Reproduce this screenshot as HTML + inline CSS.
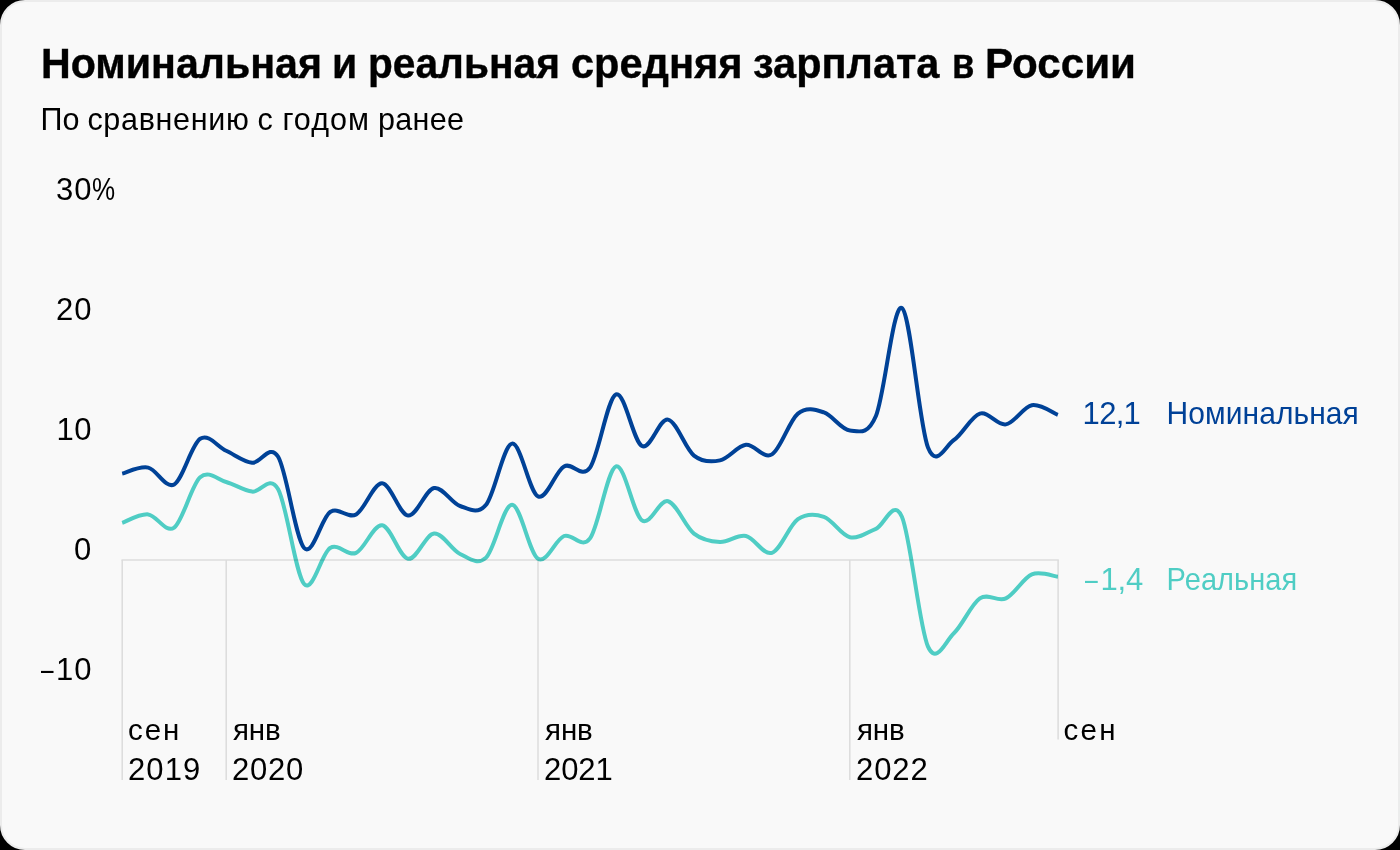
<!DOCTYPE html>
<html lang="ru"><head><meta charset="utf-8"><title>Номинальная и реальная средняя зарплата в России</title>
<style>
html,body{margin:0;padding:0;background:#000;}
body{width:1400px;height:850px;position:relative;overflow:hidden;font-family:"Liberation Sans",sans-serif;}
.card{position:absolute;left:0;top:0;width:1400px;height:850px;box-sizing:border-box;background:#f9f9f9;border:2px solid #ececec;border-radius:25px;}
.t{position:absolute;white-space:nowrap;font-family:"Liberation Sans",sans-serif;}
svg{position:absolute;left:0;top:0;}
.txt{position:absolute;left:0;top:0;width:1400px;height:850px;will-change:transform;}
</style></head><body>
<div class="card"></div>
<svg width="1400" height="850" viewBox="0 0 1400 850">
<g stroke="#dcdcdc" stroke-width="1.5" fill="none">
<path d="M121.5,560H1058.8"/>
<path d="M122.2,560V780"/>
<path d="M226.2,560V780"/>
<path d="M538,560V780"/>
<path d="M849.8,560V780"/>
<path d="M1058.1,560V739.5"/>
</g>
<path d="M122.20,522.80C126.53,521.40 139.53,513.60 148.19,514.40C156.85,515.20 165.52,533.80 174.18,527.60C182.84,521.40 191.51,484.80 200.17,477.20C208.83,469.60 217.50,479.60 226.16,482.00C234.82,484.40 243.49,490.40 252.15,491.60C260.81,492.80 269.48,473.80 278.14,489.20C286.80,504.60 295.47,574.20 304.13,584.00C312.79,593.80 321.46,553.20 330.12,548.00C338.78,542.80 347.45,556.60 356.11,552.80C364.77,549.00 373.44,524.20 382.10,525.20C390.76,526.20 399.43,557.40 408.09,558.80C416.75,560.20 425.42,534.40 434.08,533.60C442.74,532.80 451.41,550.00 460.07,554.00C468.73,558.00 477.40,565.80 486.06,557.60C494.72,549.40 503.39,504.60 512.05,504.80C520.71,505.00 529.38,553.60 538.04,558.80C546.70,564.00 555.37,539.40 564.03,536.00C572.69,532.60 581.36,550.00 590.02,538.40C598.68,526.80 607.35,469.40 616.01,466.40C624.67,463.40 633.34,514.60 642.00,520.40C650.66,526.20 659.33,499.00 667.99,501.20C676.65,503.40 685.32,526.80 693.98,533.60C702.64,540.40 711.31,541.60 719.97,542.00C728.63,542.40 737.30,534.20 745.96,536.00C754.62,537.80 763.29,555.60 771.95,552.80C780.61,550.00 789.28,525.20 797.94,519.20C806.60,513.20 815.27,513.80 823.93,516.80C832.59,519.80 841.26,535.20 849.92,537.20C858.58,539.20 867.25,532.20 875.91,528.80C884.57,525.40 893.24,497.20 901.90,516.80C910.56,536.40 919.23,627.00 927.89,646.40C936.55,665.80 945.22,641.20 953.88,633.20C962.54,625.20 971.21,604.20 979.87,598.40C988.53,592.60 997.20,602.40 1005.86,598.40C1014.52,594.40 1023.19,578.00 1031.85,574.40C1040.51,570.80 1053.51,576.40 1057.84,576.80" fill="none" stroke="#51d2c9" stroke-width="4" stroke-linejoin="round" style="mix-blend-mode:multiply"/>
<path d="M122.20,473.60C126.53,472.60 139.53,465.80 148.19,467.60C156.85,469.40 165.52,489.20 174.18,484.40C182.84,479.60 191.51,444.40 200.17,438.80C208.83,433.20 217.50,446.80 226.16,450.80C234.82,454.80 243.49,461.80 252.15,462.80C260.81,463.80 269.48,442.60 278.14,456.80C286.80,471.00 295.47,538.80 304.13,548.00C312.79,557.20 321.46,517.60 330.12,512.00C338.78,506.40 347.45,519.20 356.11,514.40C364.77,509.60 373.44,483.00 382.10,483.20C390.76,483.40 399.43,514.80 408.09,515.60C416.75,516.40 425.42,489.60 434.08,488.00C442.74,486.40 451.41,503.20 460.07,506.00C468.73,508.80 477.40,515.20 486.06,504.80C494.72,494.40 503.39,445.00 512.05,443.60C520.71,442.20 529.38,492.60 538.04,496.40C546.70,500.20 555.37,471.20 564.03,466.40C572.69,461.60 581.36,479.60 590.02,467.60C598.68,455.60 607.35,398.00 616.01,394.40C624.67,390.80 633.34,441.80 642.00,446.00C650.66,450.20 659.33,418.00 667.99,419.60C676.65,421.20 685.32,448.80 693.98,455.60C702.64,462.40 711.31,462.20 719.97,460.40C728.63,458.60 737.30,445.80 745.96,444.80C754.62,443.80 763.29,459.60 771.95,454.40C780.61,449.20 789.28,420.60 797.94,413.60C806.60,406.60 815.27,409.60 823.93,412.40C832.59,415.20 841.26,429.80 849.92,430.40C858.58,431.00 867.25,436.40 875.91,416.00C884.57,395.60 893.24,302.80 901.90,308.00C910.56,313.20 919.23,425.20 927.89,447.20C936.55,469.20 945.22,445.60 953.88,440.00C962.54,434.40 971.21,416.20 979.87,413.60C988.53,411.00 997.20,425.80 1005.86,424.40C1014.52,423.00 1023.19,406.80 1031.85,405.20C1040.51,403.60 1053.51,413.20 1057.84,414.80" fill="none" stroke="#00439b" stroke-width="4" stroke-linejoin="round" style="mix-blend-mode:multiply"/>
</svg>

<div class="txt">
<div class="t" style="-webkit-text-stroke:0.4px #000;left:41.09px;top:41.80px;font-size:43.0px;line-height:43.0px;color:#000;font-weight:bold;letter-spacing:0.000px;transform:scale(0.9568,1);transform-origin:0 36.40px;">Номинальная</div>
<div class="t" style="-webkit-text-stroke:0.4px #000;left:332.49px;top:41.80px;font-size:43.0px;line-height:43.0px;color:#000;font-weight:bold;letter-spacing:0.000px;transform:scale(0.9545,1);transform-origin:0 36.40px;">и</div>
<div class="t" style="-webkit-text-stroke:0.4px #000;left:368.11px;top:41.80px;font-size:43.0px;line-height:43.0px;color:#000;font-weight:bold;letter-spacing:0.000px;transform:scale(0.9460,1);transform-origin:0 36.40px;">реальная</div>
<div class="t" style="-webkit-text-stroke:0.4px #000;left:571.43px;top:41.80px;font-size:43.0px;line-height:43.0px;color:#000;font-weight:bold;letter-spacing:0.000px;transform:scale(0.9665,1);transform-origin:0 36.40px;">средняя</div>
<div class="t" style="-webkit-text-stroke:0.4px #000;left:752.64px;top:41.80px;font-size:43.0px;line-height:43.0px;color:#000;font-weight:bold;letter-spacing:0.000px;transform:scale(0.9646,1);transform-origin:0 36.40px;">зарплата</div>
<div class="t" style="-webkit-text-stroke:0.4px #000;left:951.86px;top:41.80px;font-size:43.0px;line-height:43.0px;color:#000;font-weight:bold;letter-spacing:0.000px;transform:scale(0.8455,1);transform-origin:0 36.40px;">в</div>
<div class="t" style="-webkit-text-stroke:0.4px #000;left:985.04px;top:41.80px;font-size:43.0px;line-height:43.0px;color:#000;font-weight:bold;letter-spacing:0.000px;transform:scale(0.9801,1);transform-origin:0 36.40px;">России</div>
<div class="t" style="left:40.40px;top:104.48px;font-size:30.5px;line-height:30.5px;color:#000;font-weight:normal;letter-spacing:0.078px;">По</div>
<div class="t" style="left:87.40px;top:104.48px;font-size:30.5px;line-height:30.5px;color:#000;font-weight:normal;letter-spacing:0.692px;">сравнению</div>
<div class="t" style="left:257.50px;top:104.48px;font-size:30.5px;line-height:30.5px;color:#000;font-weight:normal;letter-spacing:0.000px;">с</div>
<div class="t" style="left:282.40px;top:104.48px;font-size:30.5px;line-height:30.5px;color:#000;font-weight:normal;letter-spacing:1.023px;">годом</div>
<div class="t" style="left:378.00px;top:104.48px;font-size:30.5px;line-height:30.5px;color:#000;font-weight:normal;letter-spacing:0.317px;">ранее</div>
<div class="t" style="left:56.00px;top:173.96px;font-size:31px;line-height:31px;color:#000;font-weight:normal;letter-spacing:0.959px;">30</div>
<div class="t" style="left:92.36px;top:173.96px;font-size:31px;line-height:31px;color:#000;font-weight:normal;letter-spacing:0.000px;transform:scale(0.8385,1);transform-origin:0 26.24px;">%</div>
<div class="t" style="left:55.90px;top:293.96px;font-size:31px;line-height:31px;color:#000;font-weight:normal;letter-spacing:1.059px;">20</div>
<div class="t" style="left:56.60px;top:413.96px;font-size:31px;line-height:31px;color:#000;font-weight:normal;letter-spacing:0.359px;">10</div>
<div class="t" style="left:73.95px;top:533.96px;font-size:31px;line-height:31px;color:#000;font-weight:normal;letter-spacing:0.000px;">0</div>
<div class="t" style="left:40.80px;top:653.96px;font-size:31px;line-height:31px;color:#000;font-weight:normal;letter-spacing:0.000px;transform:scale(0.7278,1);transform-origin:0 26.24px;">–</div>
<div class="t" style="left:56.10px;top:653.96px;font-size:31px;line-height:31px;color:#000;font-weight:normal;letter-spacing:0.859px;">10</div>
<div class="t" style="left:128.10px;top:715.03px;font-size:29.5px;line-height:29.5px;color:#000;font-weight:normal;letter-spacing:1.922px;">сен</div>
<div class="t" style="left:128.10px;top:754.36px;font-size:31px;line-height:31px;color:#000;font-weight:normal;letter-spacing:1.026px;">2019</div>
<div class="t" style="left:232.90px;top:715.03px;font-size:29.5px;line-height:29.5px;color:#000;font-weight:normal;letter-spacing:-0.083px;">янв</div>
<div class="t" style="left:232.10px;top:754.36px;font-size:31px;line-height:31px;color:#000;font-weight:normal;letter-spacing:0.693px;">2020</div>
<div class="t" style="left:545.00px;top:715.03px;font-size:29.5px;line-height:29.5px;color:#000;font-weight:normal;letter-spacing:-0.083px;">янв</div>
<div class="t" style="left:544.00px;top:754.36px;font-size:31px;line-height:31px;color:#000;font-weight:normal;letter-spacing:-0.107px;">2021</div>
<div class="t" style="left:857.10px;top:715.03px;font-size:29.5px;line-height:29.5px;color:#000;font-weight:normal;letter-spacing:-0.233px;">янв</div>
<div class="t" style="left:856.10px;top:754.36px;font-size:31px;line-height:31px;color:#000;font-weight:normal;letter-spacing:0.859px;">2022</div>
<div class="t" style="left:1063.60px;top:715.03px;font-size:29.5px;line-height:29.5px;color:#000;font-weight:normal;letter-spacing:2.272px;">сен</div>
<div class="t" style="left:1082.60px;top:397.76px;font-size:31px;line-height:31px;color:#004197;font-weight:normal;letter-spacing:-0.698px;">12,1</div>
<div class="t" style="left:1166.60px;top:398.61px;font-size:30px;line-height:30px;color:#004197;font-weight:normal;letter-spacing:0.063px;transform:scaleY(1.04);transform-origin:0 25.39px;">Номинальная</div>
<div class="t" style="left:1084.60px;top:564.06px;font-size:31px;line-height:31px;color:#4fcdc4;font-weight:normal;letter-spacing:0.000px;transform:scale(0.7389,1);transform-origin:0 26.24px;">–</div>
<div class="t" style="left:1100.60px;top:564.06px;font-size:31px;line-height:31px;color:#4fcdc4;font-weight:normal;letter-spacing:-0.277px;">1,4</div>
<div class="t" style="left:1166.60px;top:565.75px;font-size:29px;line-height:29px;color:#4fcdc4;font-weight:normal;letter-spacing:0.043px;transform:scaleY(1.075);transform-origin:0 24.55px;">Реальная</div>
</div>
</body></html>
